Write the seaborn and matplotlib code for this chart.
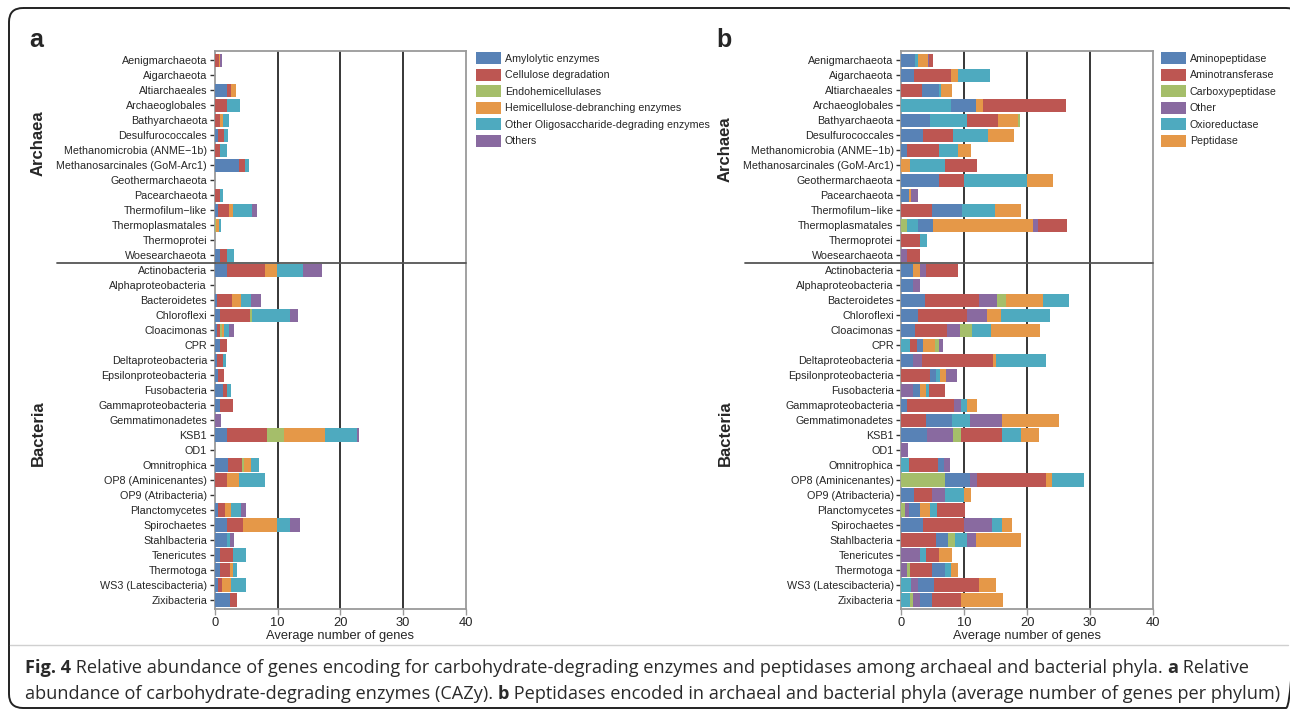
import matplotlib
matplotlib.use("Agg")
import matplotlib.pyplot as plt
import matplotlib.transforms as mtransforms
from matplotlib.patches import Patch, FancyBboxPatch
import seaborn as sns
import numpy as np

# ---------------- data ----------------
phyla = [
    "Aenigmarchaeota", "Aigarchaeota", "Altiarchaeales", "Archaeoglobales",
    "Bathyarchaeota", "Desulfurococcales", "Methanomicrobia (ANME\u22121b)",
    "Methanosarcinales (GoM-Arc1)", "Geothermarchaeota", "Pacearchaeota",
    "Thermofilum\u2212like", "Thermoplasmatales", "Thermoprotei", "Woesearchaeota",
    "Actinobacteria", "Alphaproteobacteria", "Bacteroidetes", "Chloroflexi",
    "Cloacimonas", "CPR", "Deltaproteobacteria", "Epsilonproteobacteria",
    "Fusobacteria", "Gammaproteobacteria", "Gemmatimonadetes", "KSB1", "OD1",
    "Omnitrophica", "OP8 (Aminicenantes)", "OP9 (Atribacteria)", "Planctomycetes",
    "Spirochaetes", "Stahlbacteria", "Tenericutes", "Thermotoga",
    "WS3 (Latescibacteria)", "Zixibacteria",
]
n_archaea = 14

# Panel a: carbohydrate-degrading enzymes (CAZy)
cazy_categories = ["Amylolytic enzymes", "Cellulose degradation", "Endohemicellulases",
                   "Hemicellulose-debranching enzymes",
                   "Other Oligosaccharide-degrading enzymes", "Others"]
cazy_amylolytic = [0, 0, 1.97, 0, 0.1, 0.53, 0, 3.9, 0, 0, 0.53, 0, 0, 0.85,
                   1.96, 0, 0.37, 0.85, 0.37, 0.85, 0.37, 0.53, 1.33, 0.85, 0, 1.96, 0,
                   2.12, 0, 0, 0.53, 1.96, 1.96, 0.85, 0.85, 0.53, 2.44]
cazy_cellulose = [0.75, 0, 0.64, 1.97, 0.75, 0.96, 0.85, 0.96, 0, 0.85, 1.76, 0, 0, 1.1,
                  6.05, 0, 2.39, 4.72, 0.48, 1.1, 0.96, 0.96, 0.64, 2.07, 0, 6.37, 0,
                  2.23, 1.96, 0, 1.1, 2.55, 0, 2.07, 1.6, 0.64, 1.1]
cazy_endohemi = [0, 0, 0, 0, 0, 0, 0, 0, 0, 0, 0, 0.25, 0, 0,
                 0, 0, 0, 0.37, 0.27, 0, 0, 0, 0, 0, 0, 2.7, 0,
                 0.3, 0, 0, 0, 0, 0, 0, 0, 0, 0]
cazy_hemidebranch = [0.05, 0, 0.8, 0, 0.48, 0, 0, 0, 0, 0, 0.64, 0.4, 0, 0,
                     1.9, 0, 1.43, 0, 0.37, 0, 0, 0, 0, 0, 0, 6.53, 0,
                     1.1, 1.9, 0, 0.96, 5.46, 0, 0, 0.48, 1.43, 0]
cazy_oligo = [0.1, 0, 0, 2.07, 0.96, 0.64, 1.1, 0.64, 0, 0.48, 3.03, 0.35, 0, 1.1,
              4.14, 0, 1.6, 6.05, 0.8, 0, 0.42, 0, 0.64, 0, 0, 5.09, 0,
              1.27, 4.14, 0, 1.6, 2.0, 0.48, 2.07, 0.64, 2.39, 0]
cazy_others = [0.25, 0, 0, 0, 0, 0, 0, 0, 0, 0, 0.8, 0, 0, 0,
               3.02, 0, 1.6, 1.27, 0.8, 0, 0, 0, 0, 0, 1.0, 0.3, 0,
               0, 0, 0, 0.8, 1.6, 0.64, 0, 0, 0, 0]
cazy_colors = ["#5882B6", "#BD5652", "#A5BE6A", "#E59848", "#4EAABF", "#896AA0"]

# Panel b: peptidases (segments are stacked in a row-specific order)
pep_categories = ["Aminopeptidase", "Aminotransferase", "Carboxypeptidase",
                  "Other", "Oxioreductase", "Peptidase"]
pep_codes = ["A", "T", "C", "O", "X", "P"]
pep_aminopeptidase = [2.17, 2.01, 2.7, 3.97, 4.56, 3.44, 0.9, 0, 5.99, 1.22, 4.77, 2.38, 0, 0,
                      1.85, 1.85, 3.76, 2.65, 2.17, 0.95, 1.85, 0.95, 1.11, 0.9, 4.19, 4.08, 0,
                      0.95, 3.97, 2.01, 1.75, 3.44, 1.91, 0, 2.07, 2.54, 1.91]
pep_aminotransferase = [0.64, 5.88, 3.29, 13.2, 4.93, 4.77, 5.09, 5.09, 3.97, 0, 4.88, 4.61, 2.97, 2.07,
                        5.09, 0, 8.59, 7.79, 5.09, 1.11, 11.29, 4.56, 2.54, 7.47, 3.87, 6.52, 0,
                        4.61, 10.97, 2.86, 4.45, 6.52, 5.51, 2.07, 3.5, 7.15, 4.61]
pep_carboxypeptidase = [0, 0, 0, 0, 0.32, 0, 0, 0, 0, 0, 0, 0.9, 0, 0,
                        0, 0, 1.43, 0, 1.91, 0.64, 0, 0, 0, 0, 0, 1.27, 0,
                        0, 6.94, 0, 0.58, 0, 1.11, 0, 0.48, 0, 0.48]
pep_other = [0.16, 0, 0, 0, 0, 0, 0, 0, 0, 1.11, 0, 0.8, 0, 0.9,
             0.95, 1.11, 2.86, 3.18, 2.07, 0.64, 1.43, 1.75, 1.85, 1.11, 5.09, 4.13, 1.06,
             0.95, 1.11, 2.07, 0.64, 4.45, 1.43, 2.97, 0.9, 1.11, 1.11]
pep_oxioreductase = [0.48, 5.09, 0.32, 7.9, 5.88, 5.56, 3.02, 5.56, 10.0, 0, 5.25, 1.75, 1.11, 0,
                     0, 0, 4.13, 7.79, 3.02, 1.38, 7.95, 0.64, 0.48, 0.95, 2.86, 3.02, 0,
                     1.22, 5.09, 3.02, 1.11, 1.59, 1.91, 0.95, 0.95, 1.54, 1.38]
pep_peptidase = [1.59, 1.11, 1.75, 1.11, 3.18, 4.13, 2.07, 1.38, 4.13, 0.32, 4.13, 15.9, 0, 0,
                 1.11, 0, 5.88, 2.23, 7.79, 1.91, 0.48, 0.95, 0.95, 1.59, 9.06, 2.86, 0,
                 0, 0.95, 1.11, 1.59, 1.59, 7.15, 2.07, 1.11, 2.7, 6.68]
pep_stack_order = ["AXPOT", "ATPX", "TAXP", "XAPT", "AXTPC", "ATXP", "ATXP", "PXT",
                   "ATXP", "APO", "TAXP", "CXAPOT", "TX", "OT",
                   "APOT", "AO", "ATOCPX", "ATOPX", "ATOCXP", "XTAPCO", "AOTPX",
                   "TAXPO", "OAPXT", "ATOXP", "TAXOP", "AOCTXP", "O", "XTAO",
                   "CAOTPX", "ATOXP", "COAPXT", "ATOXP", "TACXOP", "OXTP",
                   "OCTAXP", "XOATP", "XCOATP"]
pep_colors = ["#5882B6", "#BD5652", "#A5BE6A", "#896AA0", "#4EAABF", "#E59848"]

x_ticks = [0, 10, 20, 30, 40]
x_label = "Average number of genes"

# ---------------- figure ----------------
sns.set_theme(style="white")
plt.rcParams['font.family'] = ['Liberation Sans', 'DejaVu Sans']

W, H = 1290, 711
fig = plt.figure(figsize=(W / 100, H / 100), dpi=100)

bg = fig.add_axes([0, 0, 1, 1], zorder=-5)
bg.set_xlim(0, W)
bg.set_ylim(H, 0)
bg.axis("off")
bg.patch.set_alpha(0)


def fx(px):
    return px / W


def fy(py):
    return 1 - py / H


ax_top, ax_bot = 51, 609
ax_a = fig.add_axes([fx(214.7), fy(ax_bot), (466 - 214.7) / W, (ax_bot - ax_top) / H])
ax_b = fig.add_axes([fx(901.3), fy(ax_bot), (1153 - 901.3) / W, (ax_bot - ax_top) / H])

ypos = np.arange(len(phyla))
bar_h = 0.88

# panel a stacked bars
cazy_series = [cazy_amylolytic, cazy_cellulose, cazy_endohemi, cazy_hemidebranch,
               cazy_oligo, cazy_others]
left = np.zeros(len(phyla))
for vals, col in zip(cazy_series, cazy_colors):
    v = np.array(vals, dtype=float)
    ax_a.barh(ypos, v, left=left, height=bar_h, color=col, edgecolor="none",
              linewidth=0, zorder=3)
    left += v

# panel b stacked bars in row-specific order
pep_series = dict(zip(pep_codes, [pep_aminopeptidase, pep_aminotransferase,
                                  pep_carboxypeptidase, pep_other,
                                  pep_oxioreductase, pep_peptidase]))
pep_color_map = dict(zip(pep_codes, pep_colors))
for i, order in enumerate(pep_stack_order):
    cum = 0.0
    for code in order:
        v = pep_series[code][i]
        if v <= 0:
            continue
        ax_b.barh(i, v, left=cum, height=bar_h, color=pep_color_map[code],
                  edgecolor="none", linewidth=0, zorder=3)
        cum += v


def style_axes(ax, line_start):
    ax.set_xlim(0, 40)
    ax.set_ylim(len(phyla) - 1 + 0.6, -0.62)
    ax.set_yticks(ypos)
    ax.set_yticklabels(phyla, fontsize=7.75)
    ax.set_xticks(x_ticks)
    ax.set_xticklabels([str(t) for t in x_ticks], fontsize=9.3)
    ax.grid(False)
    for xv in [10, 20, 30]:
        ax.axvline(xv, color="black", lw=1.1, zorder=1)
    for s in ax.spines.values():
        s.set_color("#9a9a9a")
        s.set_linewidth(1.3)
    ax.tick_params(axis="y", left=True, length=3.5, width=1, color="#333333", pad=2)
    ax.tick_params(axis="x", bottom=True, length=4, width=1, color="#9a9a9a", pad=1.5)
    ax.set_xlabel(x_label, fontsize=9.3, labelpad=1)
    trans = mtransforms.blended_transform_factory(ax.transAxes, ax.transData)
    ax.plot([line_start, 1], [n_archaea - 0.5, n_archaea - 0.5], transform=trans,
            color="#555555", lw=1.3, clip_on=False, zorder=5)


style_axes(ax_a, (57 - 214.7) / (466 - 214.7))
style_axes(ax_b, (745 - 901.3) / (1153 - 901.3))

# legends
leg_kw = dict(loc="upper left", bbox_transform=fig.transFigure, frameon=False,
              fontsize=7.7, handlelength=2.3, handleheight=1.3, labelspacing=0.45,
              handletextpad=0.4, borderpad=0, borderaxespad=0)
ax_a.legend([Patch(facecolor=c, edgecolor="none") for c in cazy_colors], cazy_categories,
            bbox_to_anchor=(fx(476), fy(52.5)), **leg_kw)
ax_b.legend([Patch(facecolor=c, edgecolor="none") for c in pep_colors], pep_categories,
            bbox_to_anchor=(fx(1161), fy(52.5)), **leg_kw)

# group labels
for xpx, arch_y in ((38, 143), (725, 149)):
    fig.text(fx(xpx), fy(arch_y), "Archaea", rotation=90,
             ha="center", va="center", fontsize=12, fontweight="bold")
    fig.text(fx(xpx), fy(433), "Bacteria", rotation=90,
             ha="center", va="center", fontsize=12, fontweight="bold")

# panel letters
fig.text(fx(29), fy(47), "a", fontsize=18, fontweight="bold", va="baseline")
fig.text(fx(716), fy(47), "b", fontsize=18, fontweight="bold", va="baseline")

# border + separator
bg.add_patch(FancyBboxPatch((9, 8), 1300 - 9, 708 - 8,
                            boxstyle="round,pad=0,rounding_size=14",
                            facecolor="none", edgecolor="#222222", lw=1.4))
bg.plot([10, 1288], [645, 645], color="#d0d0d0", lw=1)

# caption with bold fragments
cap_lines = [
    [("Fig. 4", True),
     (" Relative abundance of genes encoding for carbohydrate-degrading enzymes and peptidases among archaeal and bacterial phyla. ", False),
     ("a", True), (" Relative", False)],
    [("abundance of carbohydrate-degrading enzymes (CAZy). ", False), ("b", True),
     (" Peptidases encoded in archaeal and bacterial phyla (average number of genes per phylum)", False)],
]
cap_base = [673, 699]
cap_target = [1237, 1250]
cap_family = ["Open Sans", "DejaVu Sans"]
renderer = fig.canvas.get_renderer()


def draw_line(parts, y, size):
    x = 25
    made = []
    for s, b in parts:
        t = bg.text(x, y, s, fontsize=size, fontweight="bold" if b else "normal",
                    family=cap_family, va="baseline", ha="left", color="#2a2a2a")
        bb = t.get_window_extent(renderer)
        x += bb.width
        made.append(t)
    return x - 25, made


scales = []
for parts, tgt in zip(cap_lines, cap_target):
    w, made = draw_line(parts, 0, 13)
    for t in made:
        t.remove()
    scales.append(tgt / w)
size = 13 * min(scales)
for parts, y in zip(cap_lines, cap_base):
    draw_line(parts, y, size)

fig.savefig("out.png", dpi=100)
